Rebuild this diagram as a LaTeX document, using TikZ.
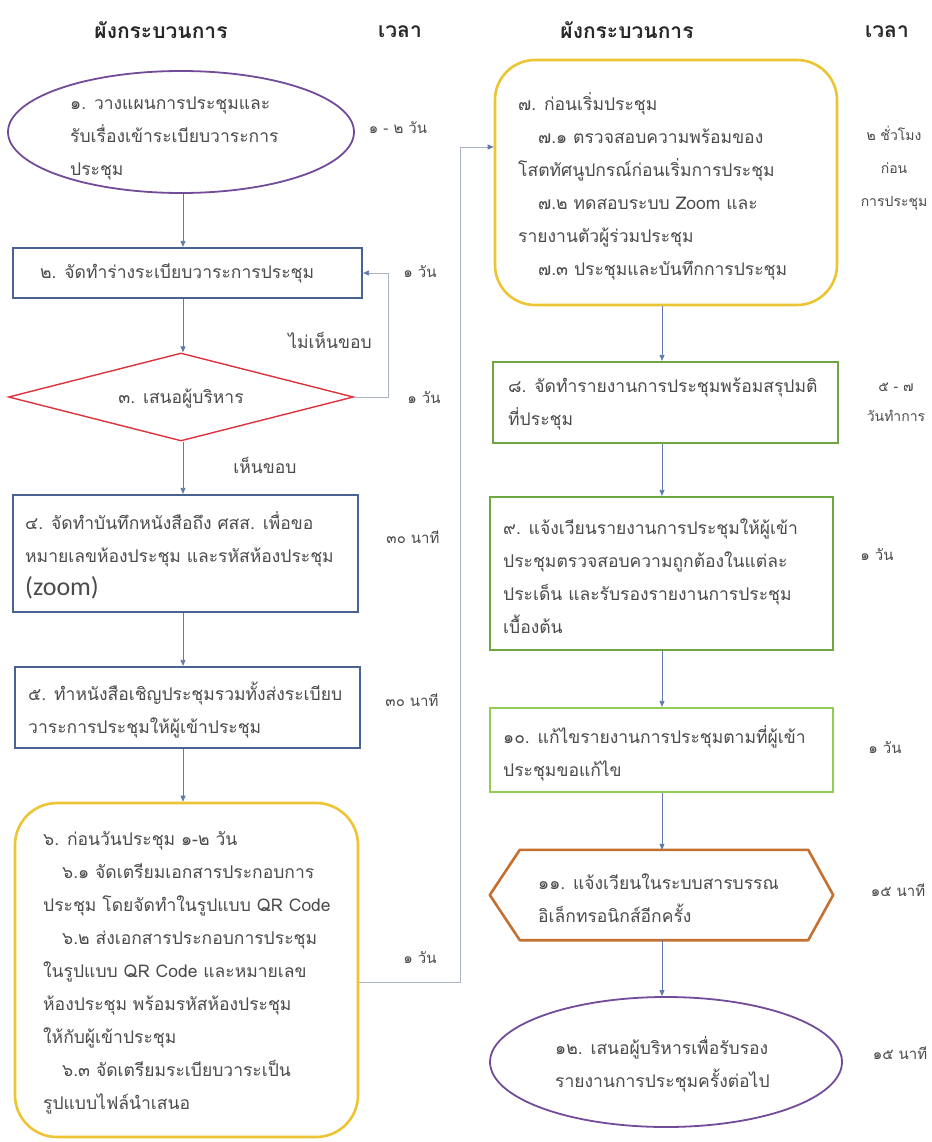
\documentclass[tikz,border=0pt]{standalone}
\usepackage{fontspec}
\setmainfont[Script=Thai]{Loma}
\newfontfamily\latinsans{Carlito}
\usetikzlibrary{shapes.geometric,arrows.meta,calc}
\definecolor{txt}{RGB}{75,75,75}
\definecolor{hdr}{RGB}{40,40,40}
\definecolor{cpurple}{RGB}{115,75,155}
\definecolor{cblue}{RGB}{72,98,145}
\definecolor{cred}{RGB}{222,50,62}
\definecolor{cyellow}{RGB}{236,196,52}
\definecolor{cgreen}{RGB}{112,166,66}
\definecolor{clgreen}{RGB}{146,204,82}
\definecolor{corange}{RGB}{196,112,48}
\definecolor{carrow}{RGB}{98,122,170}
\definecolor{cgrey}{RGB}{172,180,192}
\begin{document}
\begin{tikzpicture}[x=1pt,y=-1pt,
  every node/.style={text=txt, font=\fontsize{17.5}{33}\selectfont, inner sep=0pt},
  lbl/.style={align=left, anchor=west},
  tim/.style={align=center, font=\fontsize{15}{33}\selectfont},
  timr/.style={align=center, font=\fontsize{14}{33}\selectfont},
  head/.style={text=hdr, font=\bfseries\fontsize{21}{24}\selectfont},
  boxshape/.style={draw, rectangle, line width=2.2pt},
  roundshape/.style={draw, rectangle, rounded corners=42pt, line width=2.6pt, draw=cyellow},
  arr/.style={draw=carrow, line width=0.8pt, -{Triangle[length=6pt,width=5pt]}},
  fb/.style={draw=cgrey, line width=0.8pt, -{Triangle[length=6pt,width=5pt,color=carrow]}}
]
\fill[white] (0,0) rectangle (931,1142);
\path[use as bounding box] (0,0) rectangle (931,1142);

% headers
\node[head] (h1) at (161,30) {ผังกระบวนการ};
\node[head] (h2) at (400,32) {เวลา};
\node[head] (h3) at (627,30) {ผังกระบวนการ};
\node[head] (h4) at (887,32) {เวลา};

% ---------- left column ----------
\node[draw=cpurple, ellipse, line width=1.8pt, minimum width=346pt, minimum height=122pt] (n1) at (181,132) {};
\node[lbl] (t1) at (70,138) {๑. วางแผนการประชุมและ\\รับเรื่องเข้าระเบียบวาระการ\\ประชุม};

\node[boxshape, draw=cblue, minimum width=349pt, minimum height=50pt] (n2) at (187.5,273) {};
\node[lbl] (t2) at (40,273) {๒. จัดทำร่างระเบียบวาระการประชุม};

\node[draw=cred, diamond, line width=1.4pt, minimum width=345pt, minimum height=88pt] (n3) at (181,397) {};
\node (t3) at (181,398) {๓. เสนอผู้บริหาร};

\node[boxshape, draw=cblue, minimum width=345pt, minimum height=117pt] (n4) at (185.5,553.5) {};
\node[lbl] (t4) at (25,555) {๔. จัดทำบันทึกหนังสือถึง ศสส. เพื่อขอ\\หมายเลขห้องประชุม และรหัสห้องประชุม\\{\latinsans\fontsize{26}{33}\selectfont (zoom)}};

\node[boxshape, draw=cblue, minimum width=345pt, minimum height=81pt] (n5) at (187.5,707.5) {};
\node[lbl] (t5) at (28,710) {๕. ทำหนังสือเชิญประชุมรวมทั้งส่งระเบียบ\\วาระการประชุมให้ผู้เข้าประชุม};

\node[roundshape, minimum width=343pt, minimum height=334pt] (n6) at (186.5,970) {};
\node[lbl] (t6) at (43,973) {๖. ก่อนวันประชุม ๑-๒ วัน\\
\hspace*{19pt}๖.๑ จัดเตรียมเอกสารประกอบการ\\
ประชุม โดยจัดทำในรูปแบบ QR Code\\
\hspace*{19pt}๖.๒ ส่งเอกสารประกอบการประชุม\\
ในรูปแบบ QR Code และหมายเลข\\
ห้องประชุม พร้อมรหัสห้องประชุม\\
ให้กับผู้เข้าประชุม\\
\hspace*{19pt}๖.๓ จัดเตรียมระเบียบวาระเป็น\\
รูปแบบไฟล์นำเสนอ};

% ---------- right column ----------
\node[roundshape, rounded corners=40pt, minimum width=342pt, minimum height=245pt] (n7) at (666,182.5) {};
\node[lbl] (t7) at (518,186) {๗. ก่อนเริ่มประชุม\\
\hspace*{20pt}๗.๑ ตรวจสอบความพร้อมของ\\
โสตทัศนูปกรณ์ก่อนเริ่มการประชุม\\
\hspace*{20pt}๗.๒ ทดสอบระบบ Zoom และ\\
รายงานตัวผู้ร่วมประชุม\\
\hspace*{20pt}๗.๓ ประชุมและบันทึกการประชุม};

\node[boxshape, draw=cgreen, minimum width=345pt, minimum height=81pt] (n8) at (665.5,402.5) {};
\node[lbl] (t8) at (508,404) {๘. จัดทำรายงานการประชุมพร้อมสรุปมติ\\ที่ประชุม};

\node[boxshape, draw=cgreen, minimum width=343pt, minimum height=153pt] (n9) at (661.5,573.5) {};
\node[lbl] (t9) at (503,576) {๙. แจ้งเวียนรายงานการประชุมให้ผู้เข้า\\ประชุมตรวจสอบความถูกต้องในแต่ละ\\ประเด็น และรับรองรายงานการประชุม\\เบื้องต้น};

\node[boxshape, draw=clgreen, minimum width=343pt, minimum height=84pt] (n10) at (661.5,750) {};
\node[lbl] (t10) at (503,753) {๑๐. แก้ไขรายงานการประชุมตามที่ผู้เข้า\\ประชุมขอแก้ไข};

\node[rectangle, minimum width=343pt, minimum height=90pt] (n11) at (661.5,895) {};
\draw[draw=corange, line width=2.6pt, line join=round]
  (n11.west) -- ($(n11.north west)+(30,0)$) -- ($(n11.north east)+(-25,0)$) -- (n11.east)
  -- ($(n11.south east)+(-25,0)$) -- ($(n11.south west)+(30,0)$) -- cycle;
\node[lbl] (t11) at (538,898) {๑๑. แจ้งเวียนในระบบสารบรรณ\\อิเล็กทรอนิกส์อีกครั้ง};

\node[draw=cpurple, ellipse, line width=1.8pt, minimum width=352pt, minimum height=130pt] (n12) at (666,1062) {};
\node[lbl] (t12) at (555,1064) {๑๒. เสนอผู้บริหารเพื่อรับรอง\\รายงานการประชุมครั้งต่อไป};

% ---------- times ----------
\node[tim] (m1) at (398,128) {๑ - ๒ วัน};
\node[tim] (m2) at (420,272) {๑ วัน};
\node[tim] (m3) at (424,398) {๑ วัน};
\node[tim] (m4) at (413,537) {๓๐ นาที};
\node[tim] (m5) at (412,700) {๓๐ นาที};
\node[tim] (m6) at (420,958) {๑ วัน};
\node[timr] (m7) at (894,168) {๒ ชั่วโมง\\ก่อน\\การประชุม};
\node[timr, font=\fontsize{14}{30}\selectfont] (m8) at (896,402) {๕ - ๗\\วันทำการ};
\node[tim] (m9) at (877,555) {๑ วัน};
\node[tim] (m10) at (885,748) {๑ วัน};
\node[tim] (m11) at (898,890) {๑๕ นาที};
\node[tim] (m12) at (900,1053) {๑๕ นาที};

\node (no) at (330,340) {ไม่เห็นขอบ};
\node (yes) at (265,465) {เห็นขอบ};

% ---------- connectors ----------
\coordinate (axL) at (183,0);
\path[arr] (axL |- n1.south) -- (axL |- n2.north);
\path[arr] (axL |- n2.south) -- (axL |- n3.north);
\path[arr] (axL |- n3.south) -- (axL |- n4.north);
\path[arr] (axL |- n4.south) -- (axL |- n5.north);
\path[arr] (axL |- n5.south) -- (axL |- n6.north);

\coordinate (fbx) at (388,0);
\path[fb] (n3.east) -- (fbx |- n3.east) |- (n2.east);

\coordinate (c6a) at ($(n6.east)+(0,12)$);
\coordinate (c6b) at (460,147);
\coordinate (c7) at ($(n7.west)+(0,-35.5)$);
\path[fb] (c6a) -- (c6a -| c6b) -- (c6b) -- (c7);

\coordinate (axR) at (662,0);
\path[arr] (axR |- n7.south) -- (axR |- n8.north);
\path[arr] (axR |- n8.south) -- (axR |- n9.north);
\path[arr] (axR |- n9.south) -- (axR |- n10.north);
\path[arr] (axR |- n10.south) -- (axR |- n11.north);
\path[arr] (axR |- n11.south) -- (axR |- n12.north);
\end{tikzpicture}
\end{document}
